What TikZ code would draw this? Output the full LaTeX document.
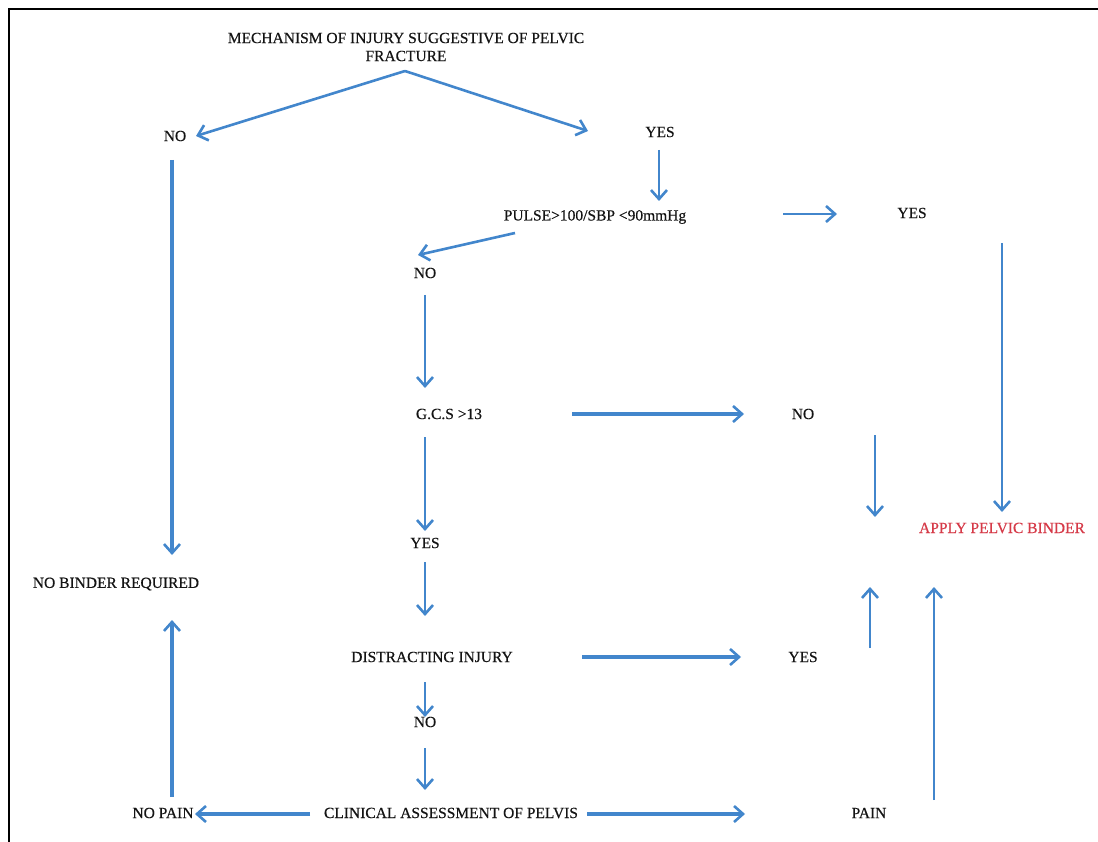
\documentclass[tikz,border=0pt]{standalone}
\usepackage{fontspec}
\setmainfont{Liberation Serif}[BoldFont=Liberation Serif, BoldFeatures={FakeBold=0.4}]
\usetikzlibrary{arrows.meta}
\definecolor{arrblue}{RGB}{66,134,204}
\definecolor{bindred}{RGB}{214,58,72}
\tikzset{
  lbl/.style={font=\fontsize{15.5}{18}\selectfont\bfseries, text=black!92, inner sep=0pt, align=center},
  arr/.style={draw=arrblue, line width=2.6pt, -{Straight Barb[length=9pt,width=16pt,line width=2.6pt]}},
  thick arr/.style={arr, line width=3.2pt},
  frame/.style={draw=black, line width=2pt}
}
\begin{document}
\begin{tikzpicture}[x=1pt,y=-1pt]
\useasboundingbox (0,0) rectangle (1098,842);
\fill[white] (0,0) rectangle (1098,842);
% frame
\coordinate (fa) at (9,842);
\coordinate (fb) at (9,9);
\coordinate (fc) at (1098,9);
\draw[frame] (fa) -- (fb) -- (fc);

% text nodes
\node[lbl] (title) at (406,47) {MECHANISM OF INJURY SUGGESTIVE OF PELVIC\\FRACTURE};
\node[lbl] (no1) at (175,136) {NO};
\node[lbl] (yes1) at (660,132) {YES};
\node[lbl] (pulse) at (595,217) {PULSE>100/SBP <90mmHg};
\node[lbl] (yes2) at (912,213) {YES};
\node[lbl] (no2) at (425,273) {NO};
\node[lbl] (gcs) at (449,414) {G.C.S >13};
\node[lbl] (no3) at (803,414) {NO};
\node[lbl, text=bindred] (apply) at (1002,528) {APPLY PELVIC BINDER};
\node[lbl] (yes3) at (425,543) {YES};
\node[lbl] (nobind) at (116,584) {NO BINDER REQUIRED};
\node[lbl] (dist) at (432,657) {DISTRACTING INJURY};
\node[lbl] (yes4) at (803,657) {YES};
\node[lbl] (no4) at (425,722) {NO};
\node[lbl] (nopain) at (163,813) {NO PAIN};
\node[lbl] (clin) at (451,813) {CLINICAL ASSESSMENT OF PELVIS};
\node[lbl] (pain) at (869,813) {PAIN};

% connector end points
\coordinate (apex) at (405,71);
\coordinate (toNo1) at (196,136);
\coordinate (toYes1) at (588,131);
\coordinate (y1s) at (659,150);
\coordinate (y1e) at (659,201);
\coordinate (p2s) at (783,214);
\coordinate (p2e) at (837,214);
\coordinate (p3s) at (515,233);
\coordinate (p3e) at (418,255);
\coordinate (n2s) at (425,295);
\coordinate (n2e) at (425,388);
\coordinate (g1s) at (572,414);
\coordinate (g1e) at (744,414);
\coordinate (n3s) at (875,435);
\coordinate (n3e) at (875,517);
\coordinate (y2s) at (1002,243);
\coordinate (y2e) at (1002,512);
\coordinate (g2s) at (425,437);
\coordinate (g2e) at (425,531);
\coordinate (y3s) at (425,562);
\coordinate (y3e) at (425,616);
\coordinate (d1s) at (582,657);
\coordinate (d1e) at (741,657);
\coordinate (y4s) at (870,648);
\coordinate (y4e) at (870,587);
\coordinate (d2s) at (425,682);
\coordinate (d2e) at (425,717);
\coordinate (n4s) at (425,748);
\coordinate (n4e) at (425,790);
\coordinate (c1s) at (310,814);
\coordinate (c1e) at (195,814);
\coordinate (c2s) at (587,814);
\coordinate (c2e) at (745,814);
\coordinate (pns) at (934,800);
\coordinate (pne) at (934,587);
\coordinate (nps) at (172,797);
\coordinate (npe) at (172,620);
\coordinate (n1s) at (172,160);
\coordinate (n1e) at (172,555);

% connectors
\draw[arr] (apex) -- (toNo1);
\draw[arr] (apex) -- (toYes1);
\draw[arr] (y1s) -- (y1e);
\draw[arr] (p2s) -- (p2e);
\draw[arr] (p3s) -- (p3e);
\draw[arr] (n2s) -- (n2e);
\draw[thick arr] (g1s) -- (g1e);
\draw[arr] (n3s) -- (n3e);
\draw[arr] (y2s) -- (y2e);
\draw[arr] (g2s) -- (g2e);
\draw[arr] (y3s) -- (y3e);
\draw[thick arr] (d1s) -- (d1e);
\draw[arr] (y4s) -- (y4e);
\draw[arr] (d2s) -- (d2e);
\draw[arr] (n4s) -- (n4e);
\draw[thick arr] (c1s) -- (c1e);
\draw[thick arr] (c2s) -- (c2e);
\draw[arr] (pns) -- (pne);
\draw[thick arr] (nps) -- (npe);
\draw[thick arr] (n1s) -- (n1e);
\end{tikzpicture}
\end{document}
